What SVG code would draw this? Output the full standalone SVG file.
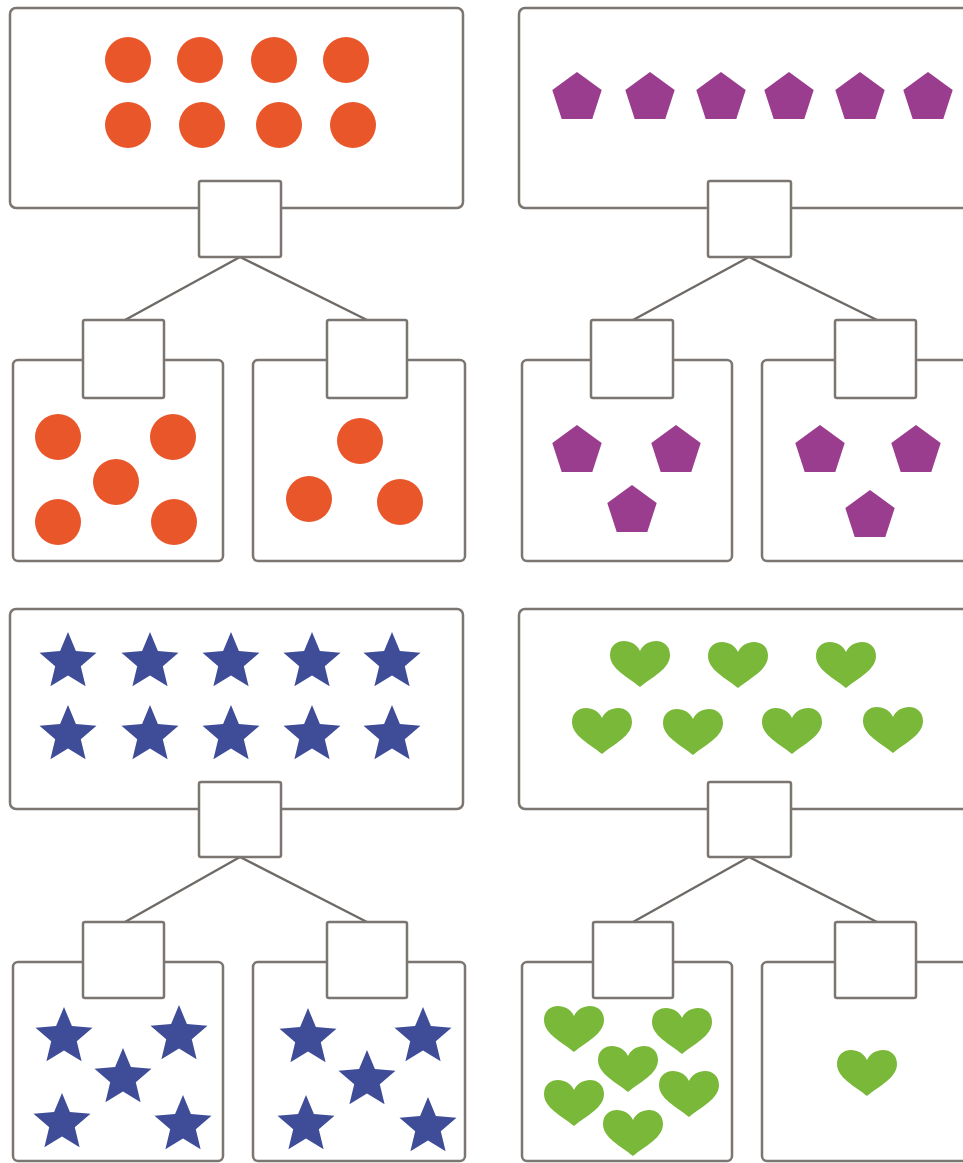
<svg xmlns="http://www.w3.org/2000/svg" xmlns:xlink="http://www.w3.org/1999/xlink" width="963" height="1163" viewBox="0 0 963 1163">
<style>
.box{fill:#fff;stroke:#7b7672;stroke-width:2.5}
.sq{fill:#fff;stroke:#7b7672;stroke-width:2.5}
.ln{stroke:#6f6a66;stroke-width:2.4;fill:none}
.dot{fill:#E8562A}
.pent{fill:#9B3D8E}
.star{fill:#3F4D98}
.heart{fill:#7AB83A}
</style>
<defs>
<circle id="c" r="23" class="dot"/>
<polygon id="p" class="pent" points="0,-26 24.7,-8 15.3,21 -15.3,21 -24.7,-8"/>
<polygon id="s" class="star" points="0,-30 7.9,-10.9 28.5,-9.3 12.8,4.2 17.6,24.3 0,13.5 -17.6,24.3 -12.8,4.2 -28.5,-9.3 -7.9,-10.9"/>
<path id="h" class="heart" d="M0,-11 C-6,-25 -30,-25 -30,-7 C-30,7 -12,15 0,25 C12,15 30,7 30,-7 C30,-25 6,-25 0,-11 Z"/>
</defs>
<rect width="963" height="1163" fill="#fff"/>
<g id="connectors">
<path class="ln" d="M240,257 L125,320 M240,257 L367,320"/>
<path class="ln" d="M749,257 L633,320 M749,257 L877,320"/>
<path class="ln" d="M240,857 L125,922 M240,857 L367,922"/>
<path class="ln" d="M749,857 L633,922 M749,857 L877,922"/>
</g>
<g id="tl-top">
<rect class="box" x="10" y="8" width="453" height="200" rx="6"/>
<use href="#c" x="128" y="60"/><use href="#c" x="200" y="60"/><use href="#c" x="274" y="60"/><use href="#c" x="346" y="60"/>
<use href="#c" x="128" y="125"/><use href="#c" x="202" y="125"/><use href="#c" x="279" y="125"/><use href="#c" x="353" y="125"/>
<rect class="sq" x="199" y="181" width="82" height="76" rx="2"/>
</g>
<g id="tl-left">
<rect class="box" x="13" y="360" width="210" height="201" rx="5"/>
<rect class="sq" x="83" y="320" width="81" height="78" rx="2"/>
<use href="#c" x="58" y="437"/><use href="#c" x="173" y="437"/><use href="#c" x="116" y="482"/><use href="#c" x="58" y="522"/><use href="#c" x="174" y="522"/>
</g>
<g id="tl-right">
<rect class="box" x="253" y="360" width="212" height="201" rx="5"/>
<rect class="sq" x="327" y="320" width="80" height="78" rx="2"/>
<use href="#c" x="360" y="441"/><use href="#c" x="309" y="499"/><use href="#c" x="400" y="502"/>
</g>
<g id="tr-top">
<rect class="box" x="519" y="8" width="460" height="200" rx="6"/>
<use href="#p" x="577" y="98"/><use href="#p" x="650" y="98"/><use href="#p" x="721" y="98"/><use href="#p" x="789" y="98"/><use href="#p" x="860" y="98"/><use href="#p" x="928" y="98"/>
<rect class="sq" x="708" y="181" width="83" height="76" rx="2"/>
</g>
<g id="tr-left">
<rect class="box" x="522" y="360" width="210" height="201" rx="5"/>
<rect class="sq" x="591" y="320" width="82" height="78" rx="2"/>
<use href="#p" x="577" y="451"/><use href="#p" x="676" y="451"/><use href="#p" x="632" y="511"/>
</g>
<g id="tr-right">
<rect class="box" x="762" y="360" width="220" height="201" rx="5"/>
<rect class="sq" x="835" y="320" width="81" height="78" rx="2"/>
<use href="#p" x="820" y="451"/><use href="#p" x="916" y="451"/><use href="#p" x="870" y="516"/>
</g>
<g id="bl-top">
<rect class="box" x="10" y="609" width="453" height="200" rx="6"/>
<use href="#s" x="68" y="662"/><use href="#s" x="150" y="662"/><use href="#s" x="231" y="662"/><use href="#s" x="312" y="662"/><use href="#s" x="392" y="662"/>
<use href="#s" x="68" y="735"/><use href="#s" x="150" y="735"/><use href="#s" x="231" y="735"/><use href="#s" x="312" y="735"/><use href="#s" x="392" y="735"/>
<rect class="sq" x="199" y="782" width="82" height="75" rx="2"/>
</g>
<g id="bl-left">
<rect class="box" x="13" y="962" width="210" height="199" rx="5"/>
<rect class="sq" x="83" y="922" width="81" height="76" rx="2"/>
<use href="#s" x="64" y="1037"/><use href="#s" x="179" y="1035"/><use href="#s" x="123" y="1078"/><use href="#s" x="62" y="1123"/><use href="#s" x="183" y="1125"/>
</g>
<g id="bl-right">
<rect class="box" x="253" y="962" width="212" height="199" rx="5"/>
<rect class="sq" x="327" y="922" width="80" height="76" rx="2"/>
<use href="#s" x="308" y="1038"/><use href="#s" x="423" y="1037"/><use href="#s" x="367" y="1080"/><use href="#s" x="306" y="1125"/><use href="#s" x="428" y="1127"/>
</g>
<g id="br-top">
<rect class="box" x="519" y="609" width="460" height="200" rx="6"/>
<use href="#h" x="640" y="662"/><use href="#h" x="738" y="663"/><use href="#h" x="846" y="663"/>
<use href="#h" x="602" y="729"/><use href="#h" x="693" y="730"/><use href="#h" x="792" y="729"/><use href="#h" x="893" y="728"/>
<rect class="sq" x="708" y="782" width="83" height="75" rx="2"/>
</g>
<g id="br-left">
<rect class="box" x="522" y="962" width="210" height="199" rx="5"/>
<rect class="sq" x="593" y="922" width="80" height="76" rx="2"/>
<use href="#h" x="574" y="1027"/><use href="#h" x="682" y="1029"/><use href="#h" x="628" y="1067"/><use href="#h" x="574" y="1101"/><use href="#h" x="689" y="1092"/><use href="#h" x="633" y="1131"/>
</g>
<g id="br-right">
<rect class="box" x="762" y="962" width="220" height="199" rx="5"/>
<rect class="sq" x="835" y="922" width="81" height="76" rx="2"/>
<use href="#h" x="867" y="1071"/>
</g>
</svg>
